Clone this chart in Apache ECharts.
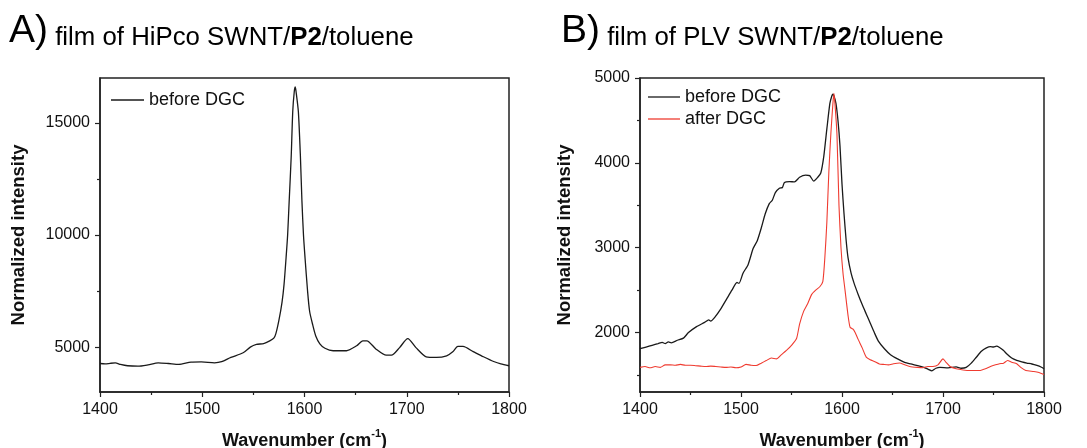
<!DOCTYPE html>
<html><head><meta charset="utf-8">
<script src="https://cdn.jsdelivr.net/npm/echarts@6/dist/echarts.min.js"></script>
<style>html,body{margin:0;padding:0;background:#fff}#c{width:1087px;height:448px}</style>
</head><body><div id="c"></div>
<script>
// ---- tick values ----
const xTicks = [1400, 1500, 1600, 1700, 1800];
const yTicksA = [5000, 10000, 15000];
const yMinorA = [7500, 12500];
const yTicksB = [2000, 3000, 4000, 5000];
const yMinorB = [1500, 2500, 3500, 4500];

// ---- series names ----
const nameBefore = 'before DGC';
const nameAfter = 'after DGC';

// ---- Panel A: film of HiPco SWNT/P2/toluene, before DGC [wavenumber, intensity] ----
const spectrumA = [[1400,4270],[1405,4250],[1410,4280],[1415,4300],[1420,4230],[1427,4170],[1437,4150],[1447,4210],[1457,4300],[1467,4270],[1477,4230],[1489,4330],[1499,4340],[1512,4300],[1519,4350],[1528,4540],[1540,4750],[1547,5000],[1553,5120],[1560,5160],[1566,5280],[1570,5400],[1572,5600],[1575,6200],[1578,7000],[1580,7800],[1582,9000],[1583.5,10000],[1585,11500],[1587,13500],[1588.5,15500],[1590,16400],[1591,16600],[1592,16300],[1594,15500],[1596,13500],[1597.5,11500],[1599,10000],[1600.5,9000],[1603,7500],[1605,6600],[1608,6000],[1611,5500],[1615,5150],[1620,4950],[1628,4840],[1641,4840],[1651,5060],[1657,5280],[1661,5280],[1670,4910],[1680,4640],[1685,4640],[1693,4980],[1701,5380],[1709,4980],[1719,4570],[1729,4540],[1739,4610],[1745,4790],[1750,5030],[1755,5030],[1765,4800],[1775,4570],[1785,4360],[1792,4250],[1800,4170]];

// ---- Panel B: film of PLV SWNT/P2/toluene ----
const spectrumBBefore = [[1400,1810],[1406,1830],[1412,1850],[1418,1870],[1422,1885],[1425,1870],[1428,1890],[1431,1880],[1437,1910],[1443,1935],[1448,2000],[1456,2070],[1464,2120],[1468,2150],[1470,2135],[1474,2180],[1480,2280],[1486,2400],[1491,2500],[1496,2590],[1498,2580],[1502,2700],[1507,2800],[1512,2990],[1516,3080],[1520,3230],[1524,3400],[1528,3520],[1531,3560],[1534,3650],[1538,3700],[1541,3710],[1543,3770],[1548,3780],[1553,3775],[1558,3830],[1564,3855],[1568,3850],[1572,3785],[1576,3830],[1579,3880],[1582,4080],[1585,4400],[1588,4700],[1590,4790],[1591,4810],[1592,4790],[1594,4700],[1596,4500],[1598,4200],[1600,3750],[1602,3400],[1604,3100],[1606,2880],[1609,2700],[1612,2580],[1616,2450],[1620,2330],[1624,2220],[1628,2110],[1632,2000],[1636,1900],[1642,1810],[1648,1740],[1655,1690],[1662,1650],[1668,1630],[1675,1610],[1681,1590],[1685,1570],[1689,1550],[1693,1580],[1697,1590],[1705,1585],[1713,1595],[1718,1580],[1723,1590],[1728,1640],[1733,1710],[1738,1780],[1743,1820],[1747,1835],[1750,1830],[1753,1840],[1756,1825],[1760,1790],[1763,1750],[1768,1700],[1773,1672],[1778,1655],[1783,1641],[1788,1630],[1793,1613],[1797,1595],[1800,1574]];
const spectrumBAfter = [[1400,1590],[1405,1600],[1410,1585],[1415,1600],[1420,1590],[1425,1620],[1430,1620],[1435,1615],[1440,1625],[1445,1615],[1450,1615],[1455,1610],[1460,1605],[1465,1600],[1470,1605],[1475,1600],[1480,1595],[1485,1590],[1490,1595],[1495,1585],[1500,1595],[1505,1625],[1510,1615],[1515,1612],[1520,1640],[1525,1670],[1530,1700],[1535,1690],[1540,1740],[1545,1790],[1550,1850],[1555,1930],[1558,2100],[1562,2250],[1566,2340],[1570,2450],[1574,2500],[1578,2540],[1581,2600],[1583,2880],[1585,3300],[1587,3900],[1589,4350],[1591,4700],[1592,4820],[1593,4700],[1595,4340],[1597,3500],[1599,3000],[1601,2700],[1603,2500],[1606,2200],[1608,2063],[1611,2040],[1613,2000],[1616,1920],[1620,1820],[1624,1711],[1628,1680],[1632,1660],[1637,1630],[1641,1625],[1646,1620],[1651,1633],[1657,1641],[1662,1620],[1667,1601],[1675,1590],[1680,1586],[1685,1600],[1690,1601],[1695,1620],[1700,1690],[1703,1650],[1707,1600],[1713,1574],[1720,1560],[1727,1554],[1737,1554],[1742,1575],[1747,1601],[1752,1620],[1756,1633],[1760,1640],[1764,1672],[1768,1650],[1773,1633],[1777,1590],[1782,1554],[1790,1542],[1795,1530],[1800,1507]];

const FONT = '"Liberation Sans", Arial, sans-serif';
const AX = '#222';
const TXT = '#111';
const plain = v => String(v);

function xAxisFor(gi) {
  return {
    gridIndex: gi, type: 'value', min: 1400, max: 1800, interval: 100,
    axisLine: { show: true, onZero: false, lineStyle: { color: AX, width: 1.5 } },
    axisTick: { show: true, inside: false, length: 5, customValues: xTicks, lineStyle: { color: AX, width: 1.2 } },
    minorTick: { show: true, splitNumber: 2, length: 3, lineStyle: { color: AX, width: 1.2 } },
    splitLine: { show: false },
    axisLabel: { customValues: xTicks, formatter: plain, fontSize: 16, color: TXT, fontFamily: FONT, margin: 10 },
    name: '{a|Wavenumber (cm}{s|-1}{a|)}',
    nameLocation: 'middle', nameGap: 36,
    nameTextStyle: {
      rich: {
        a: { fontSize: 18, fontWeight: 'bold', color: TXT, fontFamily: FONT, lineHeight: 22, verticalAlign: 'bottom' },
        s: { fontSize: 11, fontWeight: 'bold', color: TXT, fontFamily: FONT, lineHeight: 22, verticalAlign: 'top' }
      }
    }
  };
}
function yAxisMajor(gi, min, max, ticks, gap) {
  return {
    gridIndex: gi, type: 'value', min: min, max: max, position: 'left',
    axisLine: { show: true, onZero: false, lineStyle: { color: AX, width: 1.5 } },
    axisTick: { show: true, inside: false, length: 5, customValues: ticks, lineStyle: { color: AX, width: 1.2 } },
    splitLine: { show: false },
    axisLabel: { customValues: ticks, formatter: plain, fontSize: 16, color: TXT, fontFamily: FONT, margin: 10 },
    name: 'Normalized intensity', nameLocation: 'middle', nameGap: gap,
    nameTextStyle: { fontSize: 18.5, fontWeight: 'bold', color: TXT, fontFamily: FONT }
  };
}
function yAxisMinor(gi, min, max, ticks) {
  return {
    gridIndex: gi, type: 'value', min: min, max: max, position: 'left',
    axisLine: { show: false },
    axisTick: { show: true, inside: false, length: 3, customValues: ticks, lineStyle: { color: AX, width: 1.2 } },
    splitLine: { show: false },
    axisLabel: { show: false }
  };
}
function titleText(letter, sample) {
  return '{big|' + letter + ')}{t| film of ' + sample + ' SWNT/}{b|P2}{t|/toluene}';
}
const titleRich = {
  big: { fontSize: 39, fontWeight: 'normal', color: '#000', fontFamily: FONT, lineHeight: 46, verticalAlign: 'bottom' },
  t: { fontSize: 25.8, fontWeight: 'normal', color: '#000', fontFamily: FONT, lineHeight: 40, verticalAlign: 'bottom' },
  b: { fontSize: 25.8, fontWeight: 'bold', color: '#000', fontFamily: FONT, lineHeight: 40, verticalAlign: 'bottom' }
};
const legendText = { fontSize: 18, color: TXT, fontFamily: FONT };

const chart = echarts.init(document.getElementById('c'), null, { renderer: 'canvas' });
chart.setOption({
  animation: false,
  backgroundColor: '#fff',
  title: [
    { left: 9, top: 5, padding: [0, 0, 0, 0], text: titleText('A', 'HiPco'), textStyle: { fontWeight: 'normal', rich: titleRich } },
    { left: 561, top: 5, padding: [0, 0, 0, 0], text: titleText('B', 'PLV'), textStyle: { fontWeight: 'normal', rich: titleRich } }
  ],
  legend: [
    { left: 111, top: 91, padding: 0, orient: 'vertical', icon: 'rect', itemWidth: 33, itemHeight: 1.3, itemGap: 4, data: [nameBefore],
      textStyle: legendText, selectedMode: false },
    { left: 648, top: 88, padding: 0, orient: 'vertical', icon: 'rect', itemWidth: 32, itemHeight: 1.3, itemGap: 4, data: [nameBefore, nameAfter],
      textStyle: legendText, selectedMode: false }
  ],
  grid: [
    { left: 100, top: 78, width: 409, height: 314, show: true, borderColor: AX, borderWidth: 1.5, containLabel: false, outerBoundsMode: 'none' },
    { left: 640, top: 78, width: 404, height: 314, show: true, borderColor: AX, borderWidth: 1.5, containLabel: false, outerBoundsMode: 'none' }
  ],
  xAxis: [xAxisFor(0), xAxisFor(1)],
  yAxis: [
    yAxisMajor(0, 3000, 17000, yTicksA, 72),
    yAxisMinor(0, 3000, 17000, yMinorA),
    yAxisMajor(1, 1300, 5000, yTicksB, 66),
    yAxisMinor(1, 1300, 5000, yMinorB)
  ],
  series: [
    { name: nameBefore, type: 'line', xAxisIndex: 0, yAxisIndex: 0, data: spectrumA, symbol: 'none', smooth: 0.25,
      lineStyle: { color: '#1a1a1a', width: 1.3 }, itemStyle: { color: '#1a1a1a' } },
    { name: nameBefore, type: 'line', xAxisIndex: 1, yAxisIndex: 2, data: spectrumBBefore, symbol: 'none', smooth: 0.2,
      lineStyle: { color: '#1a1a1a', width: 1.3 }, itemStyle: { color: '#1a1a1a' } },
    { name: nameAfter, type: 'line', xAxisIndex: 1, yAxisIndex: 2, data: spectrumBAfter, symbol: 'none', smooth: 0.2,
      lineStyle: { color: '#ef3b30', width: 1.1 }, itemStyle: { color: '#ef3b30' } }
  ]
});
</script>
</body></html>
